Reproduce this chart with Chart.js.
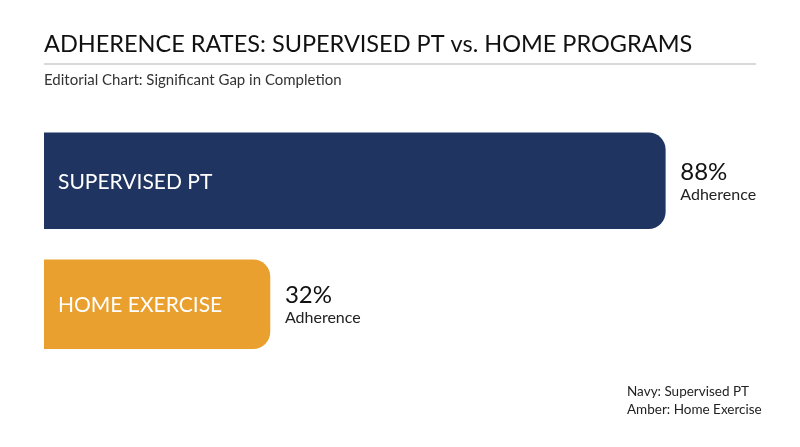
<!DOCTYPE html>
<html>
<head>
<meta charset="utf-8">
<script src="https://cdn.jsdelivr.net/npm/chart.js@4"></script>
<style>
  html, body { margin: 0; padding: 0; background: #ffffff; }
  #wrap { width: 800px; height: 447px; position: relative; }
</style>
</head>
<body>
<div id="wrap"><canvas id="myChart"></canvas></div>
<script>
// data
const categories = ["SUPERVISED PT", "HOME EXERCISE"];
const adherence = [88, 32];
const valueNote = "Adherence";
const barColors = ["#1f3461", "#e9a02e"];
const noteLines = ["Navy: Supervised PT", "Amber: Home Exercise"];

const FONT = "Lato, 'Open Sans', sans-serif";

// one dataset per bar so each can keep its own thickness
const datasets = categories.map((c, i) => ({
  label: c,
  data: adherence.map((v, j) => (j === i ? v : null)),
  backgroundColor: barColors[i],
  borderRadius: 17,
  borderSkipped: "start",
  barThickness: i === 0 ? 96 : 89,
  grouped: false,
}));

// title, labels and notes drawn on the canvas
const textPlugin = {
  id: "editorialText",
  afterDraw(chart) {
    const ctx = chart.ctx;
    ctx.save();
    ctx.textBaseline = "alphabetic";
    ctx.textAlign = "left";

    ctx.fillStyle = "#111111";
    ctx.font = "23.5px " + FONT;
    ctx.fillText("ADHERENCE RATES: SUPERVISED PT vs. HOME PROGRAMS", 44, 52);

    ctx.strokeStyle = "#d9d9d9";
    ctx.lineWidth = 2;
    ctx.beginPath();
    ctx.moveTo(44, 64);
    ctx.lineTo(756, 64);
    ctx.stroke();

    ctx.fillStyle = "#333333";
    ctx.font = "15px " + FONT;
    ctx.fillText("Editorial Chart: Significant Gap in Completion", 44, 85);

    categories.forEach((c, i) => {
      const bar = chart.getDatasetMeta(i).data[i];
      if (!bar) return;
      ctx.textBaseline = "middle";
      ctx.fillStyle = "#ffffff";
      ctx.font = "21px " + FONT;
      ctx.fillText(c, bar.base + 14, bar.y + 1);

      ctx.textBaseline = "alphabetic";
      ctx.fillStyle = "#111111";
      ctx.font = "24px " + FONT;
      ctx.fillText(adherence[i] + "%", bar.x + 15, bar.y - 1);
      ctx.fillStyle = "#222222";
      ctx.font = "16px " + FONT;
      ctx.fillText(valueNote, bar.x + 15, bar.y + 19);
    });

    ctx.fillStyle = "#222222";
    ctx.font = "13.5px " + FONT;
    ctx.textBaseline = "middle";
    noteLines.forEach((t, i) => ctx.fillText(t, 627, 392 + i * 18));
    ctx.restore();
  },
};

const config = {
  type: "bar",
  data: { labels: categories, datasets },
  options: {
    indexAxis: "y",
    responsive: true,
    maintainAspectRatio: false,
    animation: false,
    layout: { padding: { left: 44, right: 50, top: 119, bottom: 81 } },
    scales: {
      x: { min: 0, max: 100, display: false },
      y: { display: false },
    },
    plugins: {
      legend: { display: false },
      tooltip: { enabled: false },
    },
  },
  plugins: [textPlugin],
};

const myChart = new Chart(document.getElementById("myChart"), config);
</script>
</body>
</html>
